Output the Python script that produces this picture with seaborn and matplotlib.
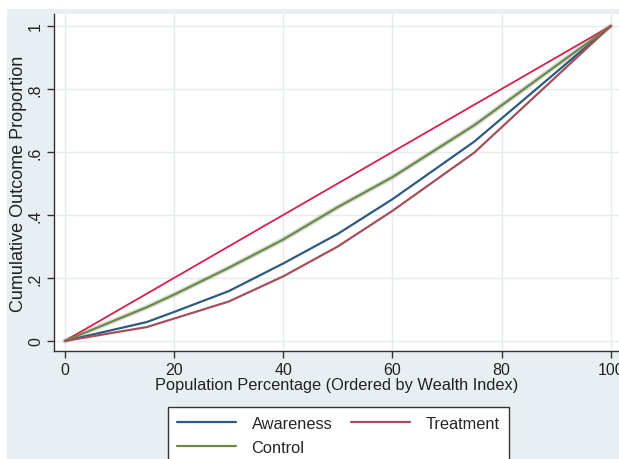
import numpy as np
import pandas as pd
import matplotlib
matplotlib.use("Agg")
import matplotlib.pyplot as plt
from matplotlib.patches import Rectangle
import seaborn as sns

# ---- data ----
pop_pct = [0, 15, 20, 30, 40, 50, 60, 75, 100]
equality = [0.0, 0.15, 0.20, 0.30, 0.40, 0.50, 0.60, 0.75, 1.0]
awareness = [0.0, 0.060, 0.092, 0.158, 0.246, 0.340, 0.450, 0.633, 1.0]
control = [0.0, 0.107, 0.147, 0.232, 0.322, 0.425, 0.520, 0.685, 1.0]
treatment = [0.0, 0.044, 0.071, 0.125, 0.205, 0.300, 0.413, 0.598, 1.0]

x_ticks = [0, 20, 40, 60, 80, 100]
y_ticks = [0, 0.2, 0.4, 0.6, 0.8, 1.0]
y_tick_labels = ["0", ".2", ".4", ".6", ".8", "1"]

df = pd.DataFrame({"x": pop_pct, "eq": equality, "aw": awareness,
                   "co": control, "tr": treatment})

sns.set_style("white")
plt.rcParams["font.family"] = ["Liberation Sans", "DejaVu Sans"]

W, H = 619, 460
fig = plt.figure(figsize=(W / 100, H / 100), dpi=100)
fig.patch.set_facecolor("white")
bg = Rectangle((7 / W, 0), 1 - 7 / W, (H - 10) / H,
               transform=fig.transFigure, facecolor="#E8EFF2",
               edgecolor="none", zorder=-10)
fig.add_artist(bg)

ax = fig.add_axes([54 / W, (H - 352) / H, (W - 54) / W, (352 - 15) / H])
ax.set_zorder(1)
ax.set_facecolor("white")

c_blue = "#2F5A80"
c_green = "#6A8A45"
c_maroon = "#A3505A"
c_red = "#D6204E"

sns.lineplot(data=df, x="x", y="eq", ax=ax, color=c_red, lw=1.3, zorder=3)
sns.lineplot(data=df, x="x", y="co", ax=ax, color="#A0A0A0", lw=3.8,
             alpha=0.35, zorder=2)
sns.lineplot(data=df, x="x", y="aw", ax=ax, color=c_blue, lw=1.6, zorder=4,
             label="Awareness")
sns.lineplot(data=df, x="x", y="co", ax=ax, color=c_green, lw=1.6, zorder=4,
             label="Control")
sns.lineplot(data=df, x="x", y="tr", ax=ax, color=c_maroon, lw=1.6, zorder=4,
             label="Treatment")

ax.set_xlim(-2.0, 101.5)
ax.set_ylim(-0.032, 1.038)
ax.set_xticks(x_ticks)
ax.set_yticks(y_ticks)
ax.set_yticklabels(y_tick_labels, rotation=90, va="center")
ax.grid(True, color="#E4ECEF", lw=1.0)
ax.set_axisbelow(True)
for s in ["top", "right"]:
    ax.spines[s].set_visible(False)
for s in ["left", "bottom"]:
    ax.spines[s].set_color("#333333")
    ax.spines[s].set_linewidth(1.0)
ax.tick_params(axis="both", direction="out", length=5, width=1,
               color="#333333", labelsize=11.5, labelcolor="#222222", pad=3,
               bottom=True, left=True)
ax.set_xlabel("Population Percentage (Ordered by Wealth Index)", fontsize=11.8,
              color="#222222", labelpad=0)
ax.set_ylabel("Cumulative Outcome Proportion", fontsize=13, color="#222222",
              labelpad=1)

handles, labels = ax.get_legend_handles_labels()
ax.get_legend().remove()
leg = fig.legend(handles, labels, ncol=2, loc="upper left",
                 bbox_to_anchor=(168 / W, (H - 408) / H),
                 frameon=True, fancybox=False, shadow=False, framealpha=1,
                 fontsize=11.8, handlelength=3.6, handletextpad=0.95,
                 columnspacing=1.15, borderpad=0.55, labelspacing=0.55,
                 borderaxespad=0)
leg.get_frame().set_edgecolor("#333333")
leg.get_frame().set_linewidth(1.0)
leg.get_frame().set_facecolor("white")
leg.set_zorder(5)

fig.savefig("out.png", dpi=100)
